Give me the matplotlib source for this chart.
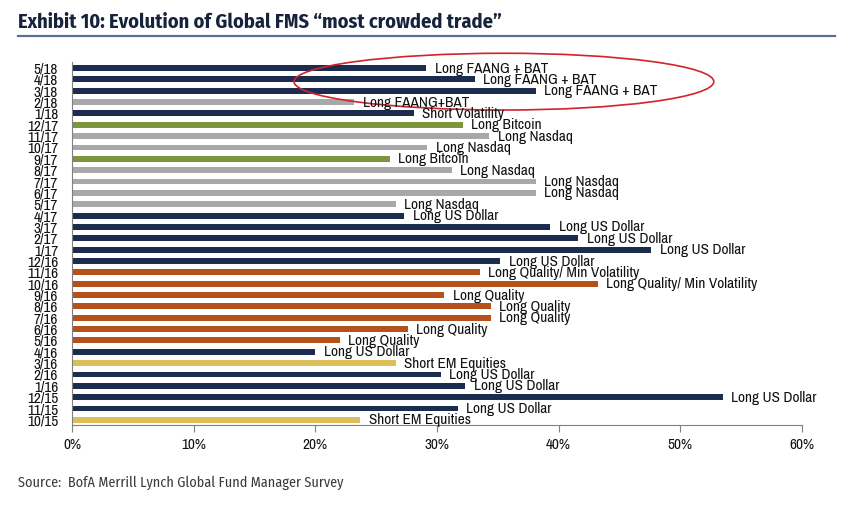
import matplotlib.pyplot as plt
from matplotlib.patches import Ellipse
from matplotlib.lines import Line2D
from matplotlib import font_manager

# Data (top to bottom)
months = ['5/18', '4/18', '3/18', '2/18', '1/18', '12/17', '11/17', '10/17', '9/17',
          '8/17', '7/17', '6/17', '5/17', '4/17', '3/17', '2/17', '1/17', '12/16',
          '11/16', '10/16', '9/16', '8/16', '7/16', '6/16', '5/16', '4/16', '3/16',
          '2/16', '1/16', '12/15', '11/15', '10/15']
values = [29.0, 33.0, 38.0, 23.1, 28.0, 32.0, 34.2, 29.1, 26.0,
          31.1, 38.0, 38.0, 26.5, 27.2, 39.2, 41.5, 47.5, 35.1,
          33.4, 43.1, 30.5, 34.3, 34.3, 27.5, 21.9, 19.9, 26.5,
          30.2, 32.2, 53.4, 31.6, 23.6]
trades = ['Long FAANG + BAT', 'Long FAANG + BAT', 'Long FAANG + BAT', 'Long FAANG+BAT',
          'Short Volatility', 'Long Bitcoin', 'Long Nasdaq', 'Long Nasdaq', 'Long Bitcoin',
          'Long Nasdaq', 'Long Nasdaq', 'Long Nasdaq', 'Long Nasdaq', 'Long US Dollar',
          'Long US Dollar', 'Long US Dollar', 'Long US Dollar', 'Long US Dollar',
          'Long Quality/ Min Volatility', 'Long Quality/ Min Volatility', 'Long Quality',
          'Long Quality', 'Long Quality', 'Long Quality', 'Long Quality', 'Long US Dollar',
          'Short EM Equities', 'Long US Dollar', 'Long US Dollar', 'Long US Dollar',
          'Long US Dollar', 'Short EM Equities']
x_ticks = [0, 10, 20, 30, 40, 50, 60]

COLORS = {
    'navy': '#1b2c4e',
    'grey': '#a8a8a8',
    'green': '#7b963c',
    'orange': '#b5521c',
    'gold': '#dcbf5a',
}


def trade_color(trade):
    if 'FAANG' in trade or 'Dollar' in trade or 'Short Volatility' in trade:
        return COLORS['navy']
    if 'Nasdaq' in trade:
        return COLORS['grey']
    if 'Bitcoin' in trade:
        return COLORS['green']
    if 'Quality' in trade:
        return COLORS['orange']
    return COLORS['gold']


# Feb 2018 FAANG+BAT bar is grey in the original
bar_colors = [trade_color(t) for t in trades]
bar_colors[3] = COLORS['grey']

available = {f.name for f in font_manager.fontManager.ttflist}


def pick(*families):
    for fam in families:
        if fam in available:
            return fam
    return 'Liberation Sans'


NARROW = pick('Archivo Narrow', 'PT Sans Narrow', 'Liberation Sans Narrow')
TITLE = pick('Fira Sans Condensed', 'PT Sans Narrow', 'Roboto Condensed')
SOURCE = pick('Fira Sans Condensed', 'PT Sans Narrow')

fig = plt.figure(figsize=(8.51, 5.11), dpi=100)
ax = fig.add_axes([72 / 851, 1 - 425 / 511, 730 / 851, 363 / 511])

ypos = list(range(len(months)))
ax.barh(ypos, values, height=0.52, color=bar_colors, left=0.1)

for y, v, t in zip(ypos, values, trades):
    ax.text(v + 0.8, y + 0.05, t, va='center', ha='left', fontsize=11,
            family=NARROW, color='#111111')

ax.set_xlim(0, 60)
ax.set_ylim(31.45, -0.53)
ax.set_yticks(ypos)
ax.set_yticklabels(months, family=NARROW, fontsize=11, color='#111111')
ax.tick_params(axis='y', length=0, pad=10)
ax.set_xticks(x_ticks)
ax.set_xticklabels([f'{t}%' for t in x_ticks], family=NARROW, fontsize=11, color='#111111')
ax.tick_params(axis='x', length=5, color='#808080', pad=4)

for side in ['top', 'right']:
    ax.spines[side].set_visible(False)
ax.spines['left'].set_color('#808080')
ax.spines['bottom'].set_color('#808080')

# red ellipse around the latest FAANG + BAT readings
ell = Ellipse((35.5, 1.2), width=34.5, height=5.0, fill=False,
              edgecolor='#d2232e', linewidth=1.2, clip_on=False)
ax.add_patch(ell)

fig.text(18 / 851, 1 - 22 / 511, 'Exhibit 10: Evolution of Global FMS \u201cmost crowded trade\u201d',
         fontsize=14.6, fontweight='bold', family=TITLE, color='#17233c', va='center', ha='left')
fig.add_artist(Line2D([18 / 851, 835 / 851], [1 - 36 / 511, 1 - 36 / 511],
                      color='#5b6e96', linewidth=1.6))

fig.text(18 / 851, 1 - 483 / 511, 'Source:  BofA Merrill Lynch Global Fund Manager Survey',
         fontsize=10.2, family=SOURCE, color='#3a3a3a', va='center', ha='left')

plt.savefig('out.png', dpi=100)
